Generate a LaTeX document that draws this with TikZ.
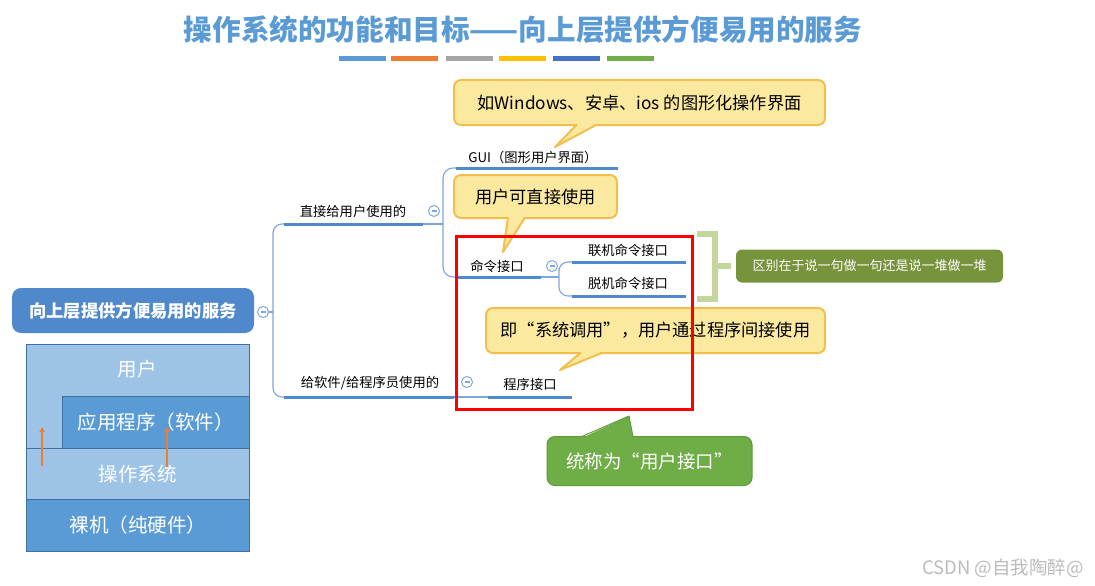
\documentclass[tikz,border=0pt]{standalone}
\usepackage{fontspec}
\setmainfont{Noto Sans CJK SC}
\usetikzlibrary{arrows.meta}
\definecolor{titleblue}{HTML}{5B9BD5}
\definecolor{barA}{HTML}{5B9BD5}
\definecolor{barB}{HTML}{ED7D31}
\definecolor{barC}{HTML}{A5A5A5}
\definecolor{barD}{HTML}{FFC000}
\definecolor{barE}{HTML}{4472C4}
\definecolor{barF}{HTML}{70AD47}
\definecolor{linkblue}{HTML}{4F89D0}
\definecolor{thinblue}{HTML}{7EA6DD}
\definecolor{centerblue}{HTML}{4F88CB}
\definecolor{lightlayer}{HTML}{9DC3E6}
\definecolor{darklayer}{HTML}{5B9BD5}
\definecolor{layerborder}{HTML}{41719C}
\definecolor{arroworange}{HTML}{ED7D31}
\definecolor{yfillc}{HTML}{FCE9A0}
\definecolor{ybordc}{HTML}{F2BF4C}
\definecolor{bracketgreen}{HTML}{C3D69B}
\definecolor{olivebox}{HTML}{77933C}
\definecolor{greenfill}{HTML}{6FAD47}
\definecolor{greenbord}{HTML}{5E9A3A}
\definecolor{wmgray}{HTML}{BBBBBB}
\begin{document}
\begin{tikzpicture}[x=1pt,y=-1pt,
  mt/.style={inner sep=0pt, font=\fontsize{13.3}{15}\selectfont, text=black},
  uline/.style={draw=linkblue, line width=3pt},
  conn/.style={draw=thinblue, line width=1.1pt},
  collapse/.style={circle, draw=thinblue, fill=white, minimum size=11pt, inner sep=0pt, line width=1pt,
    path picture={\draw[thinblue, line width=1.2pt] ([xshift=-2.5pt]path picture bounding box.center) -- ([xshift=2.5pt]path picture bounding box.center);}},
  ybox/.style={rounded corners=7pt, fill=yfillc, draw=ybordc, line width=2pt, inner sep=0pt, font=\fontsize{17.2}{19}\selectfont},
  layer/.style={draw=layerborder, line width=0.8pt, inner sep=0pt, text=white, font=\fontsize{19.5}{21}\selectfont},
  bar/.style={minimum width=47pt, minimum height=5.5pt, inner sep=0pt}
]
\useasboundingbox (0,0) rectangle (1095,586);

% title
\node[inner sep=0pt, text=titleblue, font=\fontsize{28.6}{32}\selectfont\bfseries] (title) at (523,30) {操作系统的功能和目标——向上层提供方便易用的服务};
\node[bar, fill=barA] (b1) at (362.5,58.5) {};
\node[bar, fill=barB] (b2) at (414.5,58.5) {};
\node[bar, fill=barC] (b3) at (469.5,58.5) {};
\node[bar, fill=barD] (b4) at (522.5,58.5) {};
\node[bar, fill=barE] (b5) at (576,58.5) {};
\node[bar, fill=barF] (b6) at (630,58.5) {};

% central node
\node[rounded corners=9pt, fill=centerblue, minimum width=242pt, minimum height=45pt, inner sep=0pt,
  text=white, font=\fontsize{17.3}{19}\selectfont\bfseries] (center) at (133,310.5) {向上层提供方便易用的服务};
\node[collapse] (k0) at (263,312) {};

% layer diagram
\node[layer, fill=lightlayer, minimum width=223pt, minimum height=104pt, anchor=north west] (user) at (26,344) {};
\node[inner sep=0pt, text=white, font=\fontsize{19.5}{21}\selectfont] (usert) at (137,369) {用户};
\node[layer, fill=darklayer, minimum width=187pt, minimum height=52pt, anchor=north west] (app) at (62,396) {应用程序（软件）};
\node[layer, fill=lightlayer, minimum width=223pt, minimum height=51pt, anchor=north west] (os) at (26,448) {操作系统};
\node[layer, fill=darklayer, minimum width=223pt, minimum height=52pt, anchor=north west] (hw) at (26,499) {裸机（纯硬件）};
\coordinate (a1s) at (42,466);
\coordinate (a1e) at (42,427);
\coordinate (a2s) at (167,467);
\coordinate (a2e) at (167,427);
\draw[arroworange, line width=1.6pt, -{Triangle[length=5pt,width=5pt]}] (a1s) -- (a1e);
\draw[arroworange, line width=1.6pt, -{Triangle[length=5pt,width=5pt]}] (a2s) -- (a2e);

% main branches
\coordinate (jn) at (273,312);
\coordinate (n1a) at (284,224);
\coordinate (n1b) at (423,224);
\coordinate (n2a) at (284,397);
\coordinate (n2b) at (454,397);
\draw[conn] (k0.east) -- (jn);
\draw[conn, rounded corners=9pt] (n1a) -| (jn) |- (n2a);
\draw[uline] (n1a) -- (n1b);
\draw[uline] (n2a) -- (n2b);
\node[mt] (n1) at (353,211) {直接给用户使用的};
\node[mt] (n2) at (370,383) {给软件/给程序员使用的};
\node[collapse] (k1) at (434,211) {};
\node[collapse] (k2) at (467,382) {};

% sub branches of n1
\coordinate (guia) at (456,168);
\coordinate (guib) at (618,168);
\coordinate (cmda) at (456,277);
\coordinate (cmdb) at (541,277);
\coordinate (jn1) at (443,224);
\draw[conn] (n1b) -- (jn1);
\draw[conn, rounded corners=10pt] (guia) -| (jn1) |- (cmda);
\draw[uline] (guia) -- (guib);
\draw[uline] (cmda) -- (cmdb);
\node[mt] (gui) at (533,157) {GUI（图形用户界面）};
\node[mt] (cmd) at (497,266) {命令接口};
\node[collapse] (k3) at (552,266) {};

% children of cmd
\coordinate (onla) at (572,262);
\coordinate (onlb) at (686,262);
\coordinate (offa) at (572,296);
\coordinate (offb) at (686,296);
\coordinate (jn2) at (559,277);
\draw[conn] (cmdb) -- (jn2);
\draw[conn, rounded corners=9pt] (onla) -| (jn2) |- (offa);
\draw[uline] (onla) -- (onlb);
\draw[uline] (offa) -- (offb);
\node[mt] (onl) at (628,250) {联机命令接口};
\node[mt] (off) at (628,283) {脱机命令接口};

% program interface
\coordinate (pra) at (488,397);
\coordinate (prb) at (572,397);
\draw[conn] (n2b) -- (pra);
\draw[uline] (pra) -- (prb);
\node[mt] (pr) at (530,384) {程序接口};

% callout 1
\node[ybox, minimum width=371pt, minimum height=45pt] (c1) at (639.5,102.5) {如Windows、安卓、ios 的图形化操作界面};
\coordinate (c1t) at (555,147);
\fill[yfillc] (577,123) -- (c1t) -- (597,123) -- cycle;
\draw[ybordc, line width=2pt, line join=round] (577,124.5) -- (c1t) -- (597,124.5);

% callout 2
\node[ybox, minimum width=163pt, minimum height=43pt] (c2) at (535.5,196.5) {用户可直接使用};
\coordinate (c2t) at (503,252);
\fill[yfillc] (508,216) -- (c2t) -- (525,216) -- cycle;
\draw[ybordc, line width=2pt, line join=round] (508,217.5) -- (c2t) -- (525,217.5);

% callout 3
\node[ybox, minimum width=339pt, minimum height=45pt] (c3) at (655.5,330.5) {即“系统调用”，用户通过程序间接使用};
\coordinate (c3t) at (560,370);
\fill[yfillc] (581,351) -- (c3t) -- (603,351) -- cycle;
\draw[ybordc, line width=2pt, line join=round] (581,352.5) -- (c3t) -- (603,352.5);

% red frame
\node[draw=red, line width=3pt, minimum width=236pt, minimum height=173pt, inner sep=0pt] (redbox) at (574,322.5) {};

% bracket and explanation
\coordinate (brt) at (697,234);
\coordinate (brb) at (697,299);
\coordinate (brm) at (715,266);
\coordinate (brtip) at (731,266);
\draw[bracketgreen, line width=5.5pt] (brt) -| (715,299) -- (brb);
\draw[bracketgreen, line width=5.5pt] (brm) -- (brtip);
\node[rounded corners=6pt, fill=olivebox, minimum width=267pt, minimum height=33pt, inner sep=0pt,
  text=white, font=\fontsize{13}{15}\selectfont] (diff) at (869.5,266) {区别在于说一句做一句还是说一堆做一堆};

% green callout
\node[rounded corners=8pt, fill=greenfill, draw=greenbord, line width=1pt, minimum width=205pt, minimum height=49pt,
  inner sep=0pt, text=white, font=\fontsize{18.5}{21}\selectfont] (all) at (649.5,461) {统称为“用户接口”};
\coordinate (allt) at (629,416);
\fill[greenfill] (582,438) -- (allt) -- (633,438) -- cycle;
\draw[greenbord, line width=1pt, line join=round] (582,436.5) -- (allt) -- (633,436.5);

% watermark
\node[inner sep=0pt, text=wmgray, font=\fontsize{18.5}{20}\selectfont] (wm) at (1003,568) {CSDN @自我陶醉@};
\end{tikzpicture}
\end{document}
